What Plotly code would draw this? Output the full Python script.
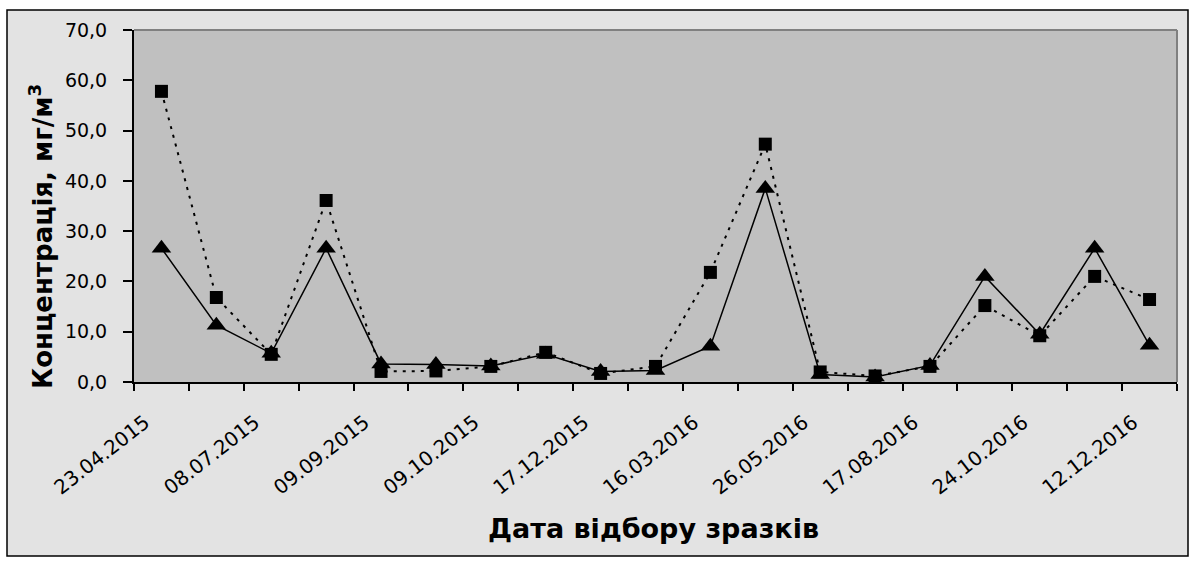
import plotly.graph_objects as go

# Sample numbers (category positions) – 19 sampling dates, every 2nd labelled
sample_no = list(range(1, 20))
tick_positions = [1, 3, 5, 7, 9, 11, 13, 15, 17, 19]
tick_labels = ["23.04.2015", "08.07.2015", "09.09.2015", "09.10.2015", "17.12.2015",
               "16.03.2016", "26.05.2016", "17.08.2016", "24.10.2016", "12.12.2016"]

# Series values, mg/m3
series_squares = [57.8, 16.8, 5.5, 36.1, 2.1, 2.2, 3.1, 5.9, 1.7, 3.1,
                  21.8, 47.3, 2.0, 1.2, 3.1, 15.2, 9.2, 21.0, 16.4]
series_triangles = [26.6, 11.3, 5.7, 26.6, 3.6, 3.5, 3.2, 5.5, 2.1, 2.3,
                    7.1, 38.5, 1.5, 1.0, 3.3, 21.0, 9.5, 26.6, 7.3]

y_ticks = [0, 10, 20, 30, 40, 50, 60, 70]

W, H = 1196, 563
L, R, T, B = 134, 19, 30, 181
pw, ph = W - L - R, H - T - B


def px(x):
    return (x - L) / pw


def py(y):
    return (H - B - y) / ph


fig = go.Figure()
fig.add_trace(go.Scatter(
    x=sample_no, y=series_squares, mode="lines+markers", name="Ряд1",
    line=dict(color="black", width=2, dash="3px,6px"),
    marker=dict(symbol="square", size=13, color="black"),
))
fig.add_trace(go.Scatter(
    x=sample_no, y=series_triangles, mode="lines+markers", name="Ряд2",
    line=dict(color="black", width=1.5),
    marker=dict(symbol="triangle-up", size=17, color="black"),
))

shapes = [
    # white margins outside the outer frame
    dict(type="rect", xref="paper", yref="paper", x0=px(0), x1=px(7), y0=py(H), y1=py(0),
         fillcolor="white", line=dict(width=0), layer="above"),
    dict(type="rect", xref="paper", yref="paper", x0=px(1188), x1=px(W), y0=py(H), y1=py(0),
         fillcolor="white", line=dict(width=0), layer="above"),
    dict(type="rect", xref="paper", yref="paper", x0=px(0), x1=px(W), y0=py(10), y1=py(0),
         fillcolor="white", line=dict(width=0), layer="above"),
    dict(type="rect", xref="paper", yref="paper", x0=px(0), x1=px(W), y0=py(H), y1=py(556),
         fillcolor="white", line=dict(width=0), layer="above"),
    # outer frame
    dict(type="rect", xref="paper", yref="paper", x0=px(7), x1=px(1188), y0=py(556), y1=py(10),
         line=dict(color="black", width=1.5), layer="above"),
    # top and right plot-area border (grey)
    dict(type="line", xref="paper", yref="paper", x0=0, x1=1, y0=1, y1=1,
         line=dict(color="#808080", width=2), layer="above"),
    dict(type="line", xref="paper", yref="paper", x0=1, x1=1, y0=0, y1=1,
         line=dict(color="#808080", width=2), layer="below"),
]

annotations = [
    dict(text="Дата відбору зразків", xref="paper", yref="paper", x=px(653), y=py(528),
         showarrow=False, xanchor="center", yanchor="middle",
         font=dict(family="DejaVu Sans", size=27, color="black", weight="bold")),
    dict(text="Концентрація, мг/м<sup>3</sup>", xref="paper", yref="paper", x=px(41), y=py(237),
         showarrow=False, textangle=-90, xanchor="center", yanchor="middle",
         font=dict(family="DejaVu Sans", size=26, color="black", weight="bold")),
]

fig.update_layout(
    width=W, height=H, autosize=False,
    margin=dict(l=L, r=R, t=T, b=B, pad=0),
    paper_bgcolor="#E3E3E3", plot_bgcolor="#C0C0C0",
    separators=", ",
    showlegend=False,
    shapes=shapes, annotations=annotations,
    font=dict(family="DejaVu Sans", color="black"),
)
fig.update_xaxes(
    range=[0.5, 19.5], tickmode="array", tickvals=[p - 0.3 for p in tick_positions],
    ticktext=tick_labels,
    tickangle=-38, ticks="outside", ticklen=0, tickfont=dict(size=20, color="black"),
    ticklabelstandoff=19,
    showline=True, linecolor="black", linewidth=2, showgrid=False, zeroline=False,
    minor=dict(tickmode="array", tickvals=[i + 0.5 for i in range(0, 20)], ticks="outside",
               ticklen=7, tickwidth=1.5, tickcolor="black", showgrid=False),
)
fig.update_yaxes(
    range=[0, 70], tickmode="array", tickvals=y_ticks, tickformat=".1f",
    ticks="outside", ticklen=9, tickwidth=1.5, tickcolor="black",
    tickfont=dict(size=19, color="black"), ticklabelstandoff=12,
    showline=True, linecolor="black", linewidth=2, showgrid=False, zeroline=False,
)

fig.write_html("out.html", config={"displayModeBar": False},
               post_script="document.body.style.margin='0';")
